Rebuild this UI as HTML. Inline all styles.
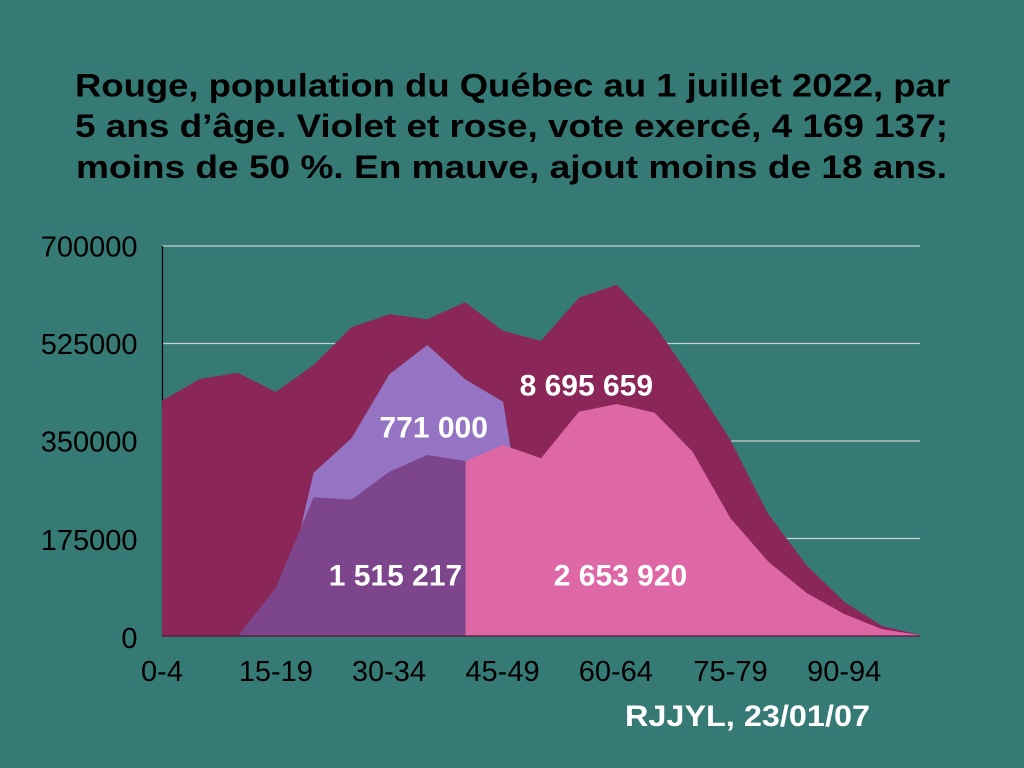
<!DOCTYPE html>
<html><head><meta charset="utf-8"><style>
html,body{margin:0;padding:0;background:#367a76;}
svg{display:block;}
text{font-family:"Liberation Sans",Arial,sans-serif;}
</style></head><body>
<svg width="1024" height="768" viewBox="0 0 1024 768" xmlns="http://www.w3.org/2000/svg">
<rect width="1024" height="768" fill="#367a76"/>
<g font-weight="bold" font-size="32" fill="#000">
<text x="75" y="96.7" textLength="875" lengthAdjust="spacingAndGlyphs">Rouge, population du Québec au 1 juillet 2022, par</text>
<text x="75" y="137" textLength="873" lengthAdjust="spacingAndGlyphs">5 ans d’âge. Violet et rose, vote exercé, 4 169 137;</text>
<text x="76" y="178" textLength="871" lengthAdjust="spacingAndGlyphs">moins de 50 %. En mauve, ajout moins de 18 ans.</text>
</g>
<g stroke="#c6d2ce" stroke-width="1.2">
<line x1="162" y1="246" x2="920" y2="246"/>
<line x1="162" y1="343.5" x2="920" y2="343.5"/>
<line x1="162" y1="441" x2="920" y2="441"/>
<line x1="162" y1="538.5" x2="920" y2="538.5"/>
</g>
<line x1="162.5" y1="246" x2="162.5" y2="636" stroke="#000" stroke-width="1.2"/>
<polygon fill="#8b2659" points="162,636 162,400.7 199.9,379 237.8,372.7 275.7,392 313.6,365 351.5,327.3 389.4,314.3 427.3,319.3 465.2,302.3 503.1,331 541,340.7 578.9,297.7 616.8,284.7 654,324 691.7,379.3 730,439.3 767.7,513.3 806.3,565 844.2,601.7 882.1,626 920,635 920,636"/>
<polygon fill="#9674c4" points="275.7,636 313.6,472.7 351.5,438.3 389.4,374.3 427.3,345 465.2,379.3 503.1,401.7 541,636"/>
<polygon fill="#7d458b" points="237.8,636 275.7,588 313.6,497.3 351.5,499.5 389.4,471.7 427.3,455 465.6,461 465.6,636"/>
<polygon fill="#de68a5" points="465.6,636 465.6,461 503.1,445 541,458.3 578.9,411.7 616.8,404 654.7,412.7 692.6,451.7 730.5,518.3 768.4,561.7 806.3,592.7 844.2,614 882.1,629.3 920,635 920,636"/>
<line x1="162" y1="636" x2="920" y2="636" stroke="#5a1838" stroke-width="1.2"/>
<g font-size="29" fill="#000" text-anchor="end">
<text x="137.5" y="256.7">700000</text>
<text x="137.5" y="354">525000</text>
<text x="137.5" y="451.7">350000</text>
<text x="137.5" y="550">175000</text>
<text x="137.5" y="648">0</text>
</g>
<g font-size="29" fill="#000" text-anchor="middle">
<text x="162" y="681">0-4</text>
<text x="275.8" y="681">15-19</text>
<text x="388.9" y="681">30-34</text>
<text x="502.5" y="681">45-49</text>
<text x="615.8" y="681">60-64</text>
<text x="730.5" y="681">75-79</text>
<text x="844.2" y="681">90-94</text>
</g>
<g font-size="30" font-weight="bold" fill="#fff" text-anchor="middle">
<text x="433.7" y="437.3">771 000</text>
<text x="395.5" y="585.7">1 515 217</text>
<text x="586.3" y="395.3">8 695 659</text>
<text x="620.5" y="585.3">2 653 920</text>
</g>
<text x="625" y="726" font-size="30" font-weight="bold" fill="#fff" textLength="245" lengthAdjust="spacingAndGlyphs">RJJYL, 23/01/07</text>
</svg>
</body></html>
